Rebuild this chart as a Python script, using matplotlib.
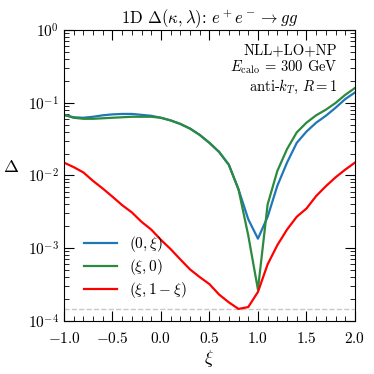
import numpy as np
import matplotlib
matplotlib.use('Agg')
import matplotlib.pyplot as plt
from matplotlib.ticker import MultipleLocator, LogLocator, NullFormatter

plt.rcParams['font.family'] = 'serif'
plt.rcParams['font.serif'] = ['cmr10']
plt.rcParams['mathtext.fontset'] = 'cm'
plt.rcParams['axes.formatter.use_mathtext'] = True
plt.rcParams['axes.unicode_minus'] = True

# xi grid (steps of 0.1)
xi = np.round(np.arange(-1.0, 2.01, 0.1), 2)

# (0, xi)
delta_0_xi = [0.068, 0.063, 0.062, 0.064, 0.067, 0.069, 0.070, 0.070, 0.068, 0.066,
              0.062, 0.057, 0.051, 0.044, 0.036, 0.028, 0.021, 0.014, 0.0064, 0.0025,
              0.00135, 0.0027, 0.0072, 0.015, 0.028, 0.040, 0.053, 0.066, 0.085, 0.112,
              0.138]
# (xi, 0)
delta_xi_0 = [0.068, 0.062, 0.060, 0.060, 0.061, 0.062, 0.063, 0.064, 0.064, 0.064,
              0.062, 0.057, 0.051, 0.044, 0.036, 0.028, 0.021, 0.014, 0.0064, 0.0015,
              0.00027, 0.004, 0.0115, 0.023, 0.039, 0.053, 0.067, 0.080, 0.099, 0.128,
              0.159]
# (xi, 1 - xi)
delta_xi_1mxi = [0.015, 0.013, 0.011, 0.0084, 0.0066, 0.0051, 0.0039, 0.0031, 0.0023, 0.0018,
                 0.0013, 0.00097, 0.0007, 0.00051, 0.0004, 0.00032, 0.00023, 0.00018, 0.000146, 0.000155,
                 0.00025, 0.0006, 0.0011, 0.0018, 0.0027, 0.0035, 0.0052, 0.0071, 0.0094, 0.012,
                 0.015]

fig = plt.figure(figsize=(3.74, 3.74), dpi=100)
ax = fig.add_axes([0.171, 0.142, 0.778, 0.778])

ax.axhline(min(delta_xi_1mxi), color='#c8c8c8', ls='--', lw=1)
ax.plot(xi, delta_0_xi, color='#2077b8', lw=1.6, label=r'$(0,\xi)$')
ax.plot(xi, delta_xi_0, color='#2b8a3e', lw=1.6, label=r'$(\xi,0)$')
ax.plot(xi, delta_xi_1mxi, color='red', lw=1.6, label=r'$(\xi,1-\xi)$')

ax.set_yscale('log')
ax.set_xlim(-1, 2)
ax.set_ylim(1e-4, 1)
ax.xaxis.set_major_locator(MultipleLocator(0.5))
ax.xaxis.set_minor_locator(MultipleLocator(0.1))
ax.yaxis.set_major_locator(LogLocator(base=10, numticks=10))
ax.yaxis.set_minor_locator(LogLocator(base=10, subs=np.arange(2, 10), numticks=20))
ax.yaxis.set_minor_formatter(NullFormatter())
ax.tick_params(which='both', direction='in', top=True, right=True, labelsize=11)
ax.tick_params(which='major', length=7)
ax.tick_params(which='minor', length=3.5)
ax.tick_params(axis='x', which='major', pad=7)

ax.set_xlabel(r'$\xi$', fontsize=13, labelpad=2)
ax.set_ylabel(r'$\Delta$', fontsize=13, rotation=0, labelpad=12)
ax.set_title(r'1D $\Delta(\kappa,\lambda)$: $e^+e^-\to gg$', fontsize=12, pad=4)

ax.text(0.94, 0.955, 'NLL+LO+NP\n' + r'$E_{\rm calo}$ = 300 GeV' + '\n' + r'anti-$k_T$, $R=1$',
        transform=ax.transAxes, ha='right', va='top', fontsize=10.5, linespacing=1.15)

ax.legend(loc='lower left', bbox_to_anchor=(0.02, 0.025), frameon=False, fontsize=11,
          handlelength=2.2, handletextpad=0.8, labelspacing=0.18)

fig.savefig('out.png', dpi=100)
